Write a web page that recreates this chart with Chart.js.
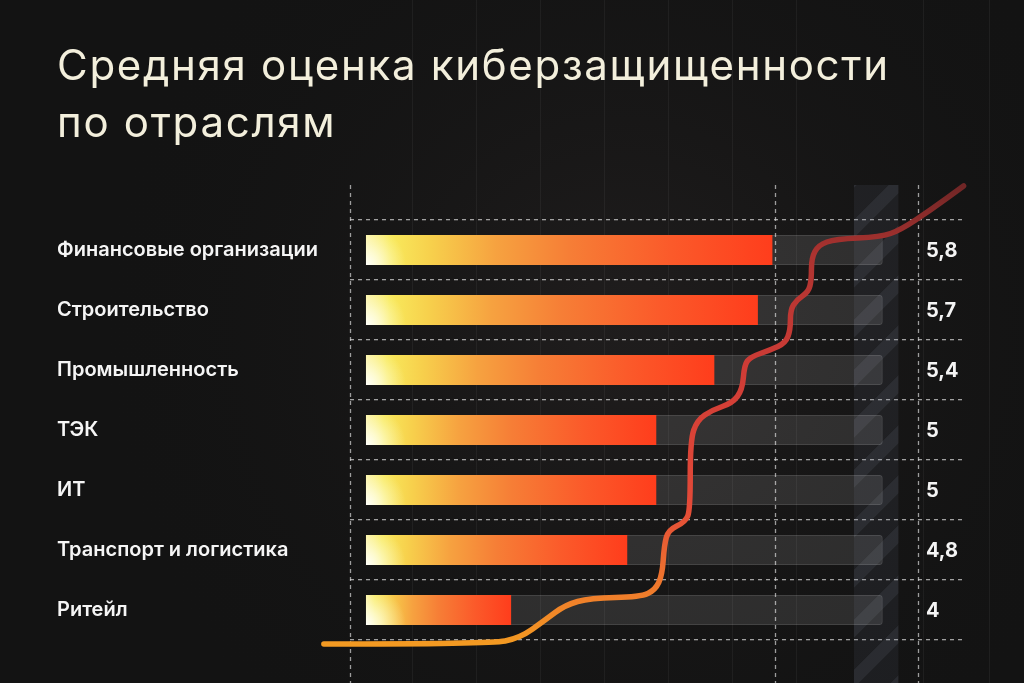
<!DOCTYPE html>
<html>
<head>
<meta charset="utf-8">
<script src="https://cdn.jsdelivr.net/npm/chart.js@4.4.1/dist/chart.umd.min.js"></script>
<style>
  html, body { margin: 0; padding: 0; background: #131313; }
  #wrap { width: 1024px; height: 683px; position: relative; }
</style>
</head>
<body>
<div id="wrap"><canvas id="c"></canvas></div>
<script>
// ---- data ----
const categories = ['Финансовые организации', 'Строительство', 'Промышленность', 'ТЭК', 'ИТ', 'Транспорт и логистика', 'Ритейл'];
const scores = [5.8, 5.7, 5.4, 5, 5, 4.8, 4];
const scoreLabels = ['5,8', '5,7', '5,4', '5', '5', '4,8', '4'];
const trackValues = [6.56, 6.56, 6.56, 6.56, 6.56, 6.56, 6.56];
const scoreBase = 3;
const axisMin = 2.89;
const axisMax = 7.12;
const titleLines = ['Средняя оценка киберзащищенности', 'по отраслям'];

// decorative guides (value-axis units)
const dashedGuides = [2.89, 5.82, 6.80];
const faintGuides = [3.32, 3.76, 4.2, 4.64, 5.08, 5.52, 5.96, 6.84, 7.29];
const stripeRange = [6.36, 6.67];
// decorative curve: [value, category position]
const curveX = [2.71, 3.855, 4.062, 4.234, 4.372, 4.545, 4.89, 4.993, 5.041, 5.055, 5.083, 5.2, 5.234, 5.234, 5.283, 5.386, 5.524, 5.593, 5.607, 5.648, 5.786, 5.89, 5.924, 5.924, 5.966, 6.048, 6.069, 6.069, 6.117, 6.234, 6.545, 6.683, 6.89, 7.117];
const curveY = [6.567, 6.567, 6.467, 6.167, 5.917, 5.8, 5.783, 5.667, 5.417, 4.917, 4.667, 4.533, 4.333, 3.167, 2.833, 2.667, 2.55, 2.333, 1.917, 1.783, 1.667, 1.55, 1.333, 1.0, 0.833, 0.7, 0.5, 0.133, -0.083, -0.183, -0.217, -0.333, -0.667, -1.067];

function barGradient(ctx) {
  const chart = ctx.chart;
  if (!chart.chartArea) return '#ff5a20';
  const xs = chart.scales.x;
  const x0 = xs.getPixelForValue(scoreBase);
  const x1 = xs.getPixelForValue(scores[ctx.dataIndex]);
  const g = chart.ctx.createLinearGradient(x0, 0, x1, 0);
  g.addColorStop(0, '#fbf3a0');
  g.addColorStop(0.06, '#f8ea5c');
  g.addColorStop(0.16, '#f7d04c');
  g.addColorStop(0.32, '#f6a240');
  g.addColorStop(0.5, '#f67e36');
  g.addColorStop(0.75, '#fb5a2a');
  g.addColorStop(1, '#ff3d1c');
  return g;
}

const decorPlugin = {
  id: 'decor',
  beforeDraw(chart) {
    const c = chart.ctx;
    c.save();
    c.fillStyle = '#131313';
    c.fillRect(0, 0, chart.width, chart.height);
    const rg = c.createRadialGradient(620, 330, 40, 620, 330, 520);
    rg.addColorStop(0, 'rgba(40,36,36,0.55)');
    rg.addColorStop(1, 'rgba(20,20,20,0)');
    c.fillStyle = rg;
    c.fillRect(0, 0, chart.width, chart.height);
    c.restore();
    // wider tracking for the title (drawn next)
    c.letterSpacing = '1.7px';
  },
  beforeDatasetsDraw(chart) {
    const c = chart.ctx;
    c.letterSpacing = '0px';
    const xs = chart.scales.x;
    const area = chart.chartArea;
    const top = area.top - 35;
    const bottom = chart.height;
    c.save();
    // faint background lines
    c.strokeStyle = 'rgba(255,255,255,0.05)';
    c.lineWidth = 1;
    faintGuides.forEach(v => {
      const x = Math.round(xs.getPixelForValue(v)) + 0.5;
      c.beginPath(); c.moveTo(x, 0); c.lineTo(x, bottom); c.stroke();
    });
    // stripe
    const sx0 = xs.getPixelForValue(stripeRange[0]);
    const sx1 = xs.getPixelForValue(stripeRange[1]);
    c.beginPath(); c.rect(sx0, top, sx1 - sx0, bottom - top); c.clip();
    c.fillStyle = 'rgba(110,118,140,0.12)';
    c.fillRect(sx0, top, sx1 - sx0, bottom - top);
    c.fillStyle = 'rgba(160,168,190,0.10)';
    for (let y = top - 60; y < bottom + 60; y += 50) {
      c.beginPath();
      c.moveTo(sx0, y + 45);
      c.lineTo(sx1, y);
      c.lineTo(sx1, y + 18);
      c.lineTo(sx0, y + 63);
      c.closePath();
      c.fill();
    }
    c.restore();
    // dashed vertical guides
    c.save();
    c.strokeStyle = 'rgba(215,215,215,0.7)';
    c.lineWidth = 1.3;
    c.setLineDash([4, 4]);
    dashedGuides.forEach(v => {
      const x = Math.round(xs.getPixelForValue(v)) + 0.5;
      c.beginPath(); c.moveTo(x, top); c.lineTo(x, bottom); c.stroke();
    });
    c.restore();
  },
  afterDatasetsDraw(chart) {
    const c = chart.ctx;
    const xs = chart.scales.x;
    const ys = chart.scales.y;
    // glow at the start of each bar
    const meta = chart.getDatasetMeta(1);
    c.save();
    meta.data.forEach((el) => {
      const p = el.getProps(['x', 'y', 'base', 'height'], true);
      const left = p.base, right = p.x, topY = p.y - p.height / 2, h = p.height;
      c.save();
      c.beginPath(); c.rect(left, topY, right - left, h); c.clip();
      const g = c.createRadialGradient(left, topY + h, 0, left, topY + h, 40);
      g.addColorStop(0, 'rgba(255,255,250,1)');
      g.addColorStop(0.35, 'rgba(255,255,235,0.7)');
      g.addColorStop(1, 'rgba(255,250,200,0)');
      c.fillStyle = g;
      c.fillRect(left, topY, 60, h);
      c.restore();
    });
    c.restore();
    // decorative curve
    const pts = curveX.map((v, i) => [xs.getPixelForValue(v), ys.getPixelForValue(0) + curveY[i] * (ys.getPixelForValue(1) - ys.getPixelForValue(0))]);
    c.save();
    const lg = c.createLinearGradient(0, pts[0][1], 0, pts[pts.length - 1][1]);
    lg.addColorStop(0, '#f39a22');
    lg.addColorStop(0.12, '#ef7a2c');
    lg.addColorStop(0.3, '#e44a38');
    lg.addColorStop(0.6, '#cf3c36');
    lg.addColorStop(0.85, '#ad3330');
    lg.addColorStop(1, '#702626');
    c.strokeStyle = lg;
    c.lineWidth = 5.5;
    c.lineCap = 'round';
    c.lineJoin = 'round';
    c.beginPath();
    c.moveTo(pts[0][0], pts[0][1]);
    for (let i = 1; i < pts.length - 1; i++) {
      const mx = (pts[i][0] + pts[i + 1][0]) / 2;
      const my = (pts[i][1] + pts[i + 1][1]) / 2;
      c.quadraticCurveTo(pts[i][0], pts[i][1], mx, my);
    }
    c.lineTo(pts[pts.length - 1][0], pts[pts.length - 1][1]);
    c.stroke();
    c.restore();
    // value labels
    c.save();
    c.letterSpacing = '0px';
    c.fillStyle = '#f4f4f4';
    c.font = '700 20px Inter, "Open Sans", sans-serif';
    c.textAlign = 'left';
    c.textBaseline = 'middle';
    const lx = chart.chartArea.right - 38;
    scoreLabels.forEach((t, i) => {
      c.fillText(t, lx, ys.getPixelForValue(i) + 1);
    });
    c.restore();
  }
};

new Chart(document.getElementById('c'), {
  type: 'bar',
  data: {
    labels: categories,
    datasets: [
      {
        label: 'track',
        data: trackValues,
        base: scoreBase,
        grouped: false,
        order: 2,
        backgroundColor: 'rgba(255,255,255,0.11)',
        borderColor: 'rgba(255,255,255,0.2)',
        borderWidth: 1,
        borderSkipped: false,
        borderRadius: 3,
        barPercentage: 0.5,
        categoryPercentage: 1
      },
      {
        label: 'score',
        data: scores,
        base: scoreBase,
        grouped: false,
        order: 1,
        backgroundColor: barGradient,
        borderWidth: 0,
        barPercentage: 0.5,
        categoryPercentage: 1
      }
    ]
  },
  options: {
    indexAxis: 'y',
    responsive: true,
    maintainAspectRatio: false,
    animation: false,
    events: [],
    layout: { padding: { left: 57, right: 60, top: 0, bottom: 43 } },
    plugins: {
      legend: { display: false },
      tooltip: { enabled: false },
      title: {
        display: true,
        text: titleLines,
        align: 'start',
        color: '#f3efdc',
        font: { family: 'Inter, "Open Sans", sans-serif', size: 42, weight: '400', lineHeight: 1.357 },
        padding: { top: 39, bottom: 67 }
      }
    },
    scales: {
      x: {
        type: 'linear',
        min: axisMin,
        max: axisMax,
        display: false
      },
      y: {
        type: 'category',
        offset: true,
        afterFit(scale) { scale.width = 293; },
        grid: {
          offset: true,
          color: 'rgba(215,215,215,0.72)',
          lineWidth: 1.3,
          drawTicks: false,
          z: -1
        },
        border: { display: false, dash: [4, 4] },
        ticks: {
          color: '#f5f5f5',
          crossAlign: 'far',
          padding: 0,
          z: 1,
          font: { family: 'Inter, "Open Sans", sans-serif', size: 20, weight: '600' }
        }
      }
    }
  },
  plugins: [decorPlugin]
});
</script>
</body>
</html>
